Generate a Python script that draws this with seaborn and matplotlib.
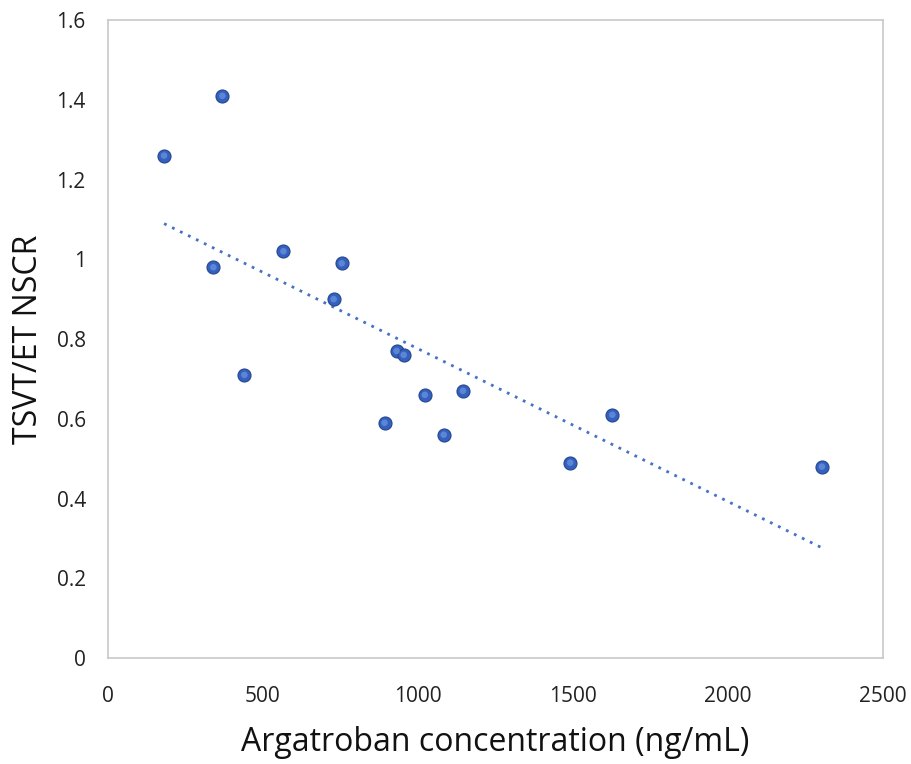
import numpy as np
import pandas as pd
import matplotlib
matplotlib.use("Agg")
import matplotlib.pyplot as plt
import seaborn as sns

# Data
argatroban_ng_ml = [181, 369, 340, 440, 566, 728, 754, 931, 954, 892, 1022, 1083, 1145, 1491, 1627, 2303]
tsvt_et_nscr = [1.26, 1.41, 0.98, 0.71, 1.02, 0.90, 0.99, 0.77, 0.76, 0.59, 0.66, 0.56, 0.67, 0.49, 0.61, 0.48]
x_ticks = [0, 500, 1000, 1500, 2000, 2500]
y_ticks = [0, 0.2, 0.4, 0.6, 0.8, 1.0, 1.2, 1.4, 1.6]
y_tick_labels = ["0", "0.2", "0.4", "0.6", "0.8", "1", "1.2", "1.4", "1.6"]
x_label = "Argatroban concentration (ng/mL)"
y_label = "TSVT/ET NSCR"

df = pd.DataFrame({"x": argatroban_ng_ml, "y": tsvt_et_nscr})

sns.set_theme(style="white")
plt.rcParams["font.family"] = ["Open Sans", "DejaVu Sans"]

fig = plt.figure(figsize=(9.12, 7.64), dpi=100)
ax = fig.add_axes([0.1184, 0.1387, 0.8498, 0.8351])

# Linear trendline (dotted), spanning the data range
coef = np.polyfit(df["x"], df["y"], 1)
xs = np.array([df["x"].min(), df["x"].max()])
trend = pd.DataFrame({"x": xs, "y": np.polyval(coef, xs)})
sns.lineplot(data=trend, x="x", y="y", ax=ax, color="#4472C4",
             linestyle=(0, (1, 2.2)), linewidth=2.0, zorder=2)

# Points (sphere-like look: base + highlight)
sns.scatterplot(data=df, x="x", y="y", ax=ax, s=88, color="#3461BD",
                edgecolor="#26478E", linewidth=0.8, zorder=3)
sns.scatterplot(data=df, x="x", y="y", ax=ax, s=22, color="#6A92E0",
                edgecolor="none", linewidth=0, zorder=4, alpha=0.75)

ax.set_xlim(0, 2500)
ax.set_ylim(0, 1.6)
ax.set_xticks(x_ticks)
ax.set_xticklabels([str(t) for t in x_ticks])
ax.set_yticks(y_ticks)
ax.set_yticklabels(y_tick_labels)
ax.tick_params(axis="both", length=0, labelsize=15, colors="#222222")
ax.tick_params(axis="x", pad=20)
ax.tick_params(axis="y", pad=16)

for sp in ax.spines.values():
    sp.set_color("#C8C8C8")
    sp.set_linewidth(1.2)

ax.set_xlabel(x_label, fontsize=23, color="#111111", labelpad=14)
ax.set_ylabel(y_label, fontsize=23, color="#111111", labelpad=8)
ax.grid(False)

fig.savefig("out.png", dpi=100, facecolor="white")
